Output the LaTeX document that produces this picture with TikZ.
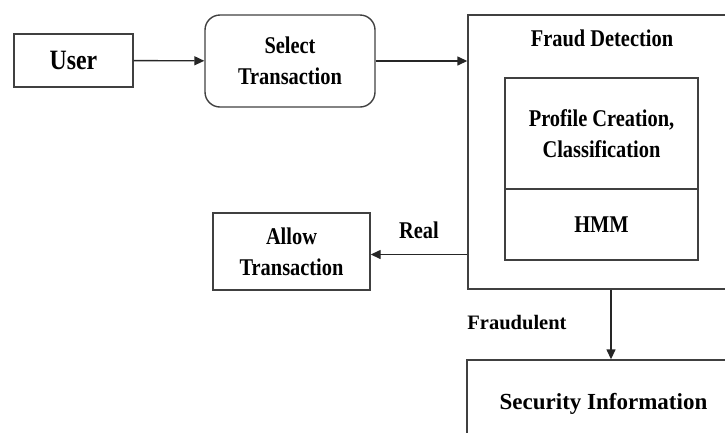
\documentclass[tikz,border=0pt]{standalone}
\usepackage{fontspec}
\setmainfont{Liberation Serif}[FakeStretch=0.85]
\newfontfamily\widefont{Liberation Serif}
\usetikzlibrary{arrows.meta}
\tikzset{
	box/.style={draw=black!75, line width=1.4pt, align=center, inner sep=0pt, font=\fontsize{24}{31}\selectfont\bfseries},
	lbl/.style={font=\fontsize{24}{31}\selectfont\bfseries},
	arr/.style={draw=black!85, line width=1.4pt, -{Triangle[length=10pt,width=9pt]}}
}
\begin{document}
\begin{tikzpicture}[x=1pt, y=-1pt]
				\useasboundingbox (0,0) rectangle (725,432);
				\clip (0,0) rectangle (725,432);
				\node[box, minimum width=119pt, minimum height=53pt, font=\fontsize{28}{32}\selectfont\bfseries] (user) at (73.5,60.5) {User};
				\node[box, rounded corners=15pt, minimum width=170pt, minimum height=92pt] (select) at (290,61) {Select\\Transaction};
	        	\node[box, minimum width=272pt, minimum height=274pt] (fraud) at (604,152) {};
	        	\node[lbl] (fraudtitle) at (602,38) {Fraud Detection};
	        	\node[box, minimum width=193pt, minimum height=111pt] (profile) at (601.5,133.5) {Profile Creation,\\Classification};
	        	\node[box, minimum width=193pt, minimum height=71pt] (hmm) at (601.5,224.5) {HMM};
	        	\node[box, minimum width=157pt, minimum height=77pt] (allow) at (291.5,251.5) {Allow\\Transaction};
	        	\node[box, minimum width=273pt, minimum height=88pt, font=\widefont\fontsize{23}{27}\selectfont\bfseries] (security) at (603.5,404) {Security Information};
	        	
	        	\draw[arr] (user) -- (select);
	        	\draw[arr] (select.east) -- (select.east -| fraud.west);
	        	\draw[arr] ([yshift=-3pt]allow.east -| fraud.west) -- ([yshift=-3pt]allow.east) node[lbl, pos=0.5, above=12pt] (real) {Real};
	        	\draw[arr] ([xshift=7pt]fraud.south) -- ([xshift=7pt]fraud.south |- security.north);
	        	\node[lbl, font=\widefont\fontsize{20.5}{25}\selectfont\bfseries] (fraudulent) at (517,323) {Fraudulent};
			\end{tikzpicture}
\end{document}
